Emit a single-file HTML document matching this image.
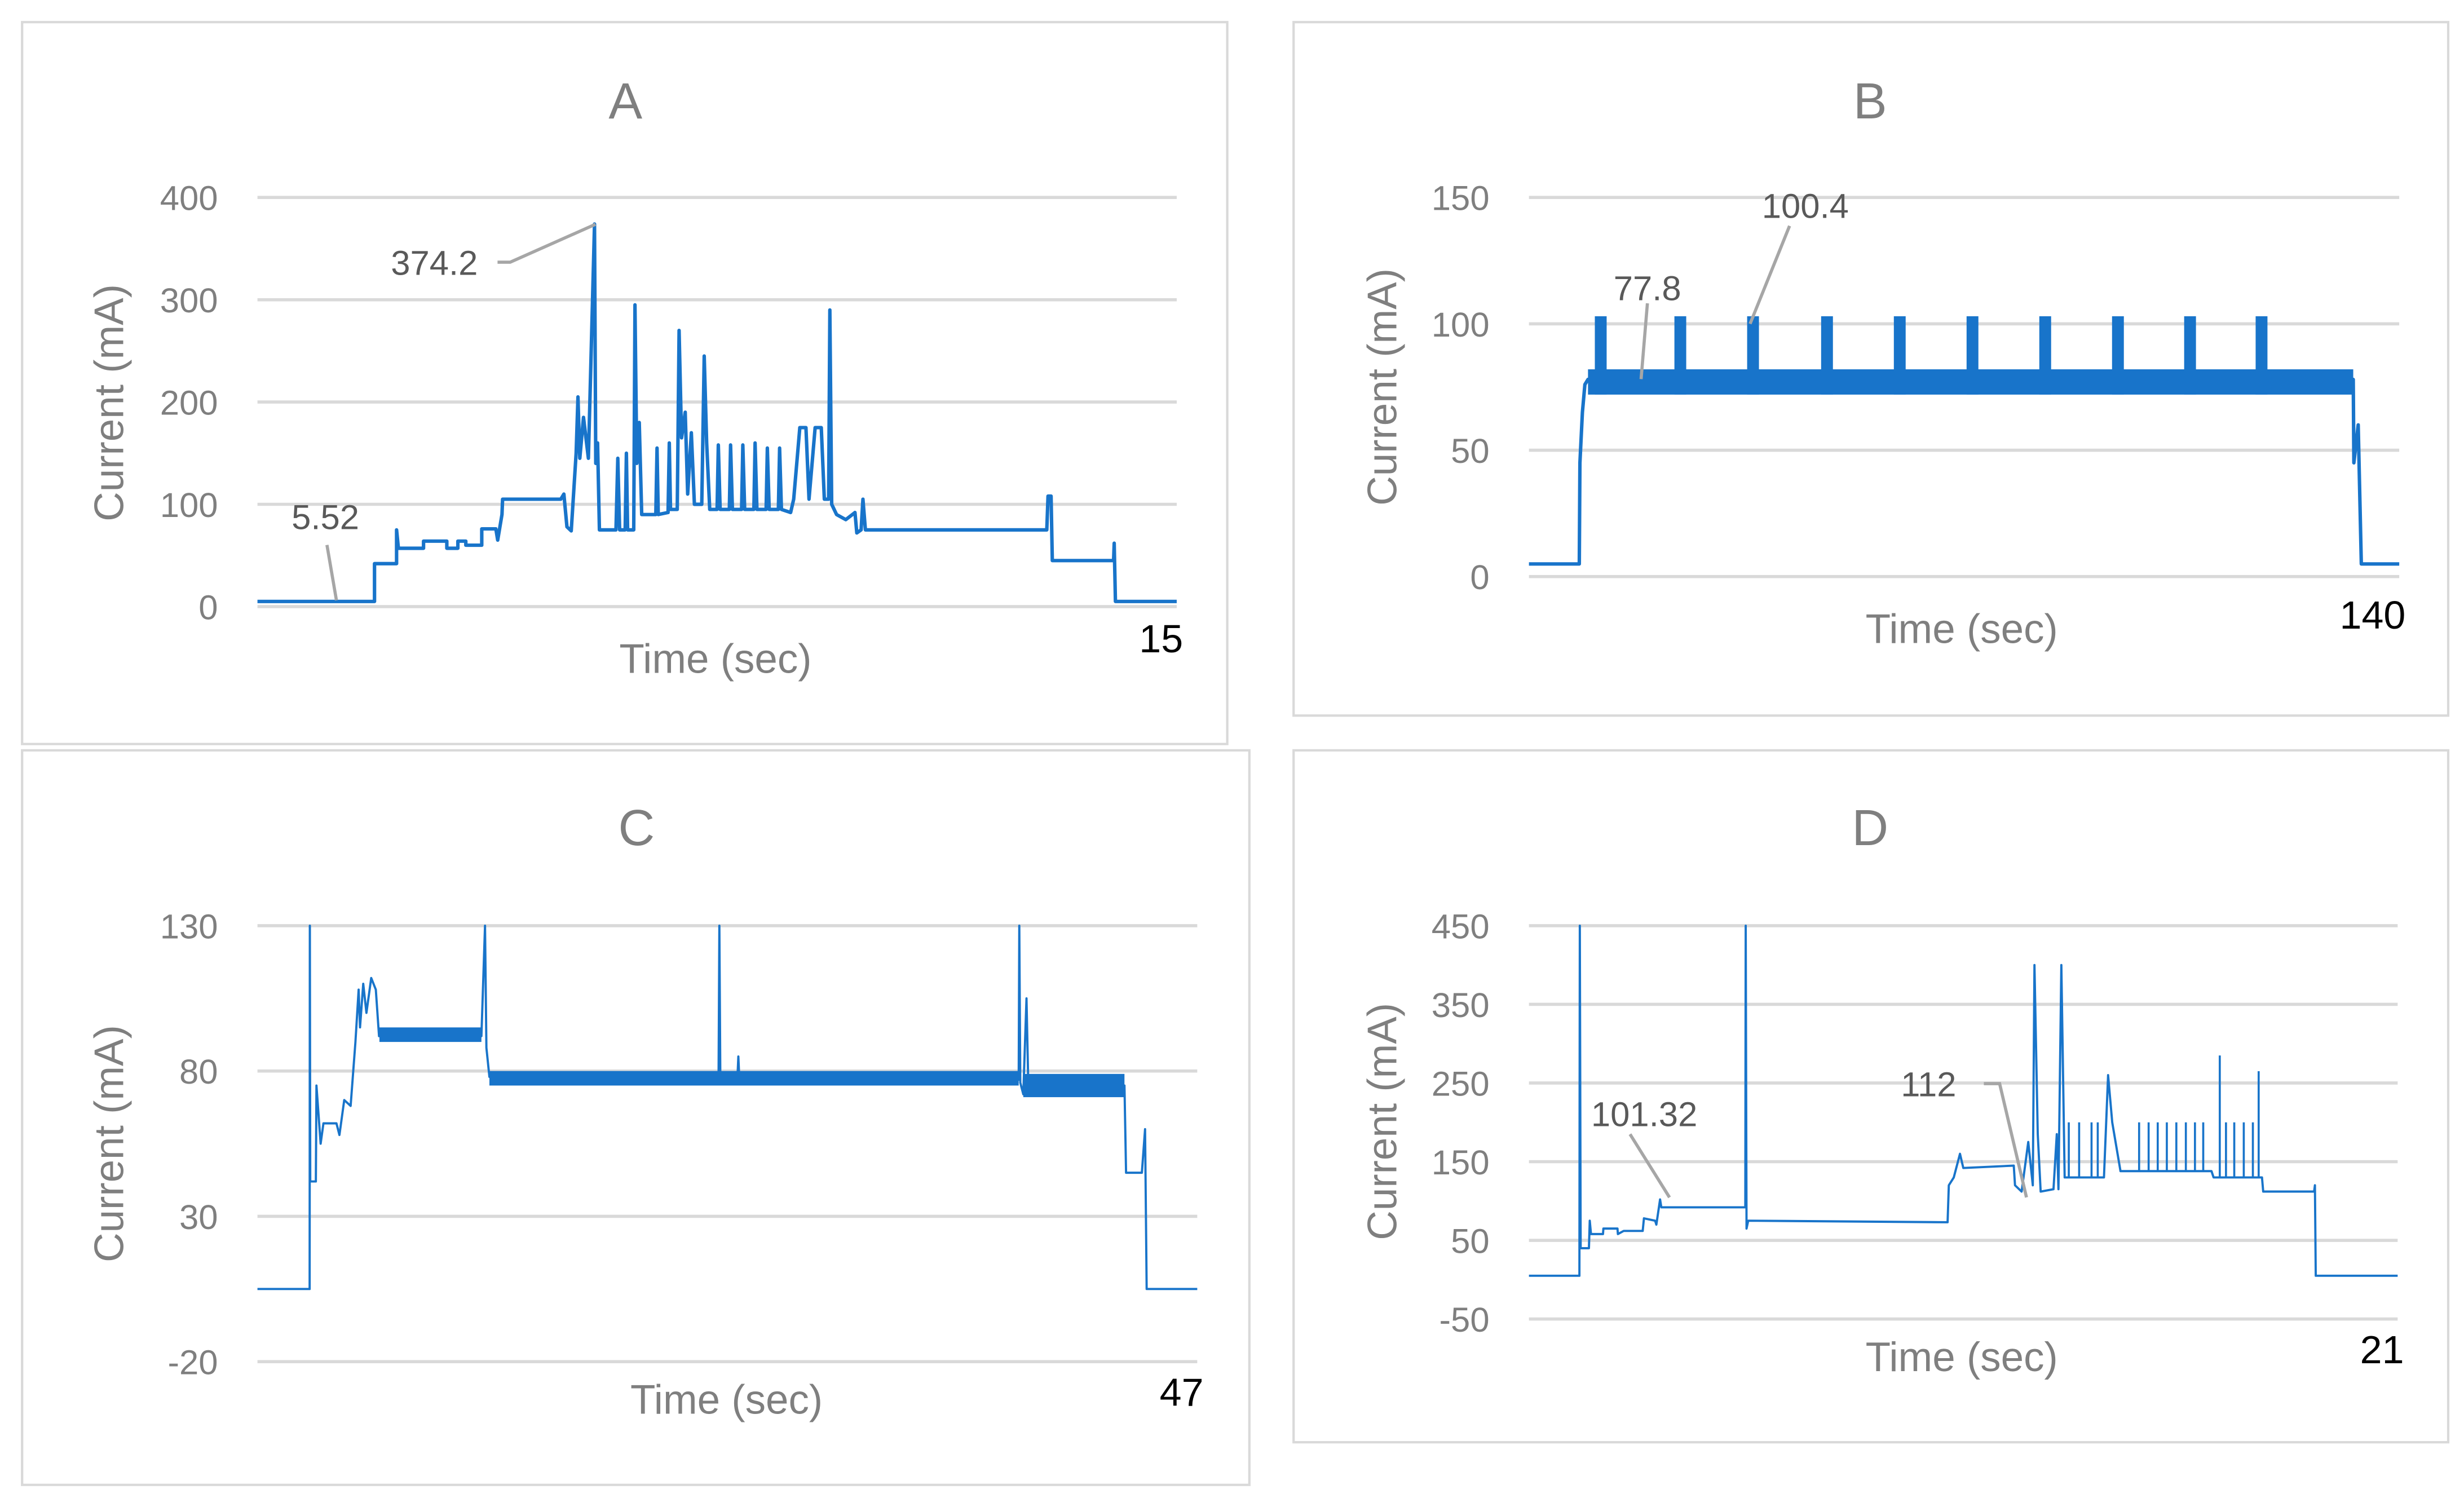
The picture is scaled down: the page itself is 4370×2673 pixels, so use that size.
<!DOCTYPE html>
<html><head><meta charset="utf-8"><style>
html,body{margin:0;padding:0;background:#fff;}
svg{display:block;}
text{font-family:"Liberation Sans",sans-serif;}
</style></head><body>
<svg id="fig" width="4370" height="2673" viewBox="0 0 1560 954" preserveAspectRatio="none" xmlns="http://www.w3.org/2000/svg">
<rect x="0" y="0" width="1560" height="954" fill="#fff"/>
<rect x="14" y="14" width="763" height="457" fill="none" stroke="#d9d9d9" stroke-width="1.5"/>
<rect x="819" y="14" width="731" height="439" fill="none" stroke="#d9d9d9" stroke-width="1.5"/>
<rect x="14" y="475" width="777" height="465" fill="none" stroke="#d9d9d9" stroke-width="1.5"/>
<rect x="819" y="475" width="731" height="438" fill="none" stroke="#d9d9d9" stroke-width="1.5"/>
<g id="layer"></g>
</svg>
<script>
// ---- Panel A data (time s, current mA)
const tA=[0,1.91,1.91,2.27,2.27,2.30,2.71,2.71,3.09,3.09,3.27,3.27,3.40,3.40,3.66,3.66,3.89,3.92,3.99,4.0,4.95,5.0,5.05,5.12,5.20,5.23,5.26,5.32,5.40,5.50,5.52,5.55,5.58,5.85,5.88,5.91,6.0,6.02,6.04,6.14,6.16,6.19,6.23,6.27,6.5,6.52,6.54,6.7,6.72,6.74,6.85,6.88,6.92,6.98,7.02,7.08,7.13,7.25,7.29,7.33,7.38,7.5,7.52,7.55,7.7,7.72,7.75,7.9,7.92,7.95,8.1,8.12,8.15,8.3,8.32,8.35,8.5,8.52,8.55,8.7,8.75,8.85,8.95,9.0,9.1,9.2,9.25,9.32,9.34,9.37,9.45,9.6,9.75,9.78,9.85,9.88,9.92,12.88,12.9,12.95,12.97,13.97,13.98,14.0,15];
const vA=[5,5,42,42,75,57,57,64,64,57,57,64,64,60,60,76,76,65,90,105,105,110,78,74,150,205,145,185,145,374,140,160,75,75,145,75,75,150,75,75,295,140,180,90,90,155,90,92,160,95,95,270,165,190,110,170,100,100,245,160,95,95,158,95,95,158,95,95,158,95,95,160,95,95,155,95,95,155,95,92,105,175,175,105,175,175,105,105,290,100,90,85,92,72,75,105,75,75,108,108,45,45,62,5,5];
const ticksA=[0,100,200,300,400];
// ---- Panel B data
const tB=[0,8.1,8.2,8.6,9.0,9.5,132.6,132.7,133.4,133.9,140];
const vB=[5,5,45,65,76,78,78,45,60,5,5];
const bandB=[9.5,132.6,72,82];
const pulseTimesB=[10.6,23.4,35.1,47.0,58.7,70.4,82.1,93.8,105.4,116.9];
const pulsePeaksB=[103,103,103,103,103,103,103,103,103,103];
const pulseWidthB=[1.9];
const ticksB=[0,50,100,150];
// ---- Panel C data
const tC=[0,2.61,2.62,2.64,2.92,2.95,3.16,3.3,3.95,4.1,4.34,4.66,4.9,5.06,5.13,5.29,5.45,5.69,5.92,6.08,11.2,11.38,11.45,11.6,23.06,23.1,23.15,24.0,24.05,24.1,38.07,38.1,38.15,38.3,38.46,38.55,43.36,43.44,44.23,44.39,44.47,47];
const vC=[5,5,130,42,42,75,55,62,62,58,70,68,90,108,95,110,100,112,108,92,92,130,88,78,77,130,76,77,85,77,77,130,76,72,105,75,75,45,45,60,5,5];
const bandsC=[[11.6,38.07,75,80],[38.3,43.36,71,79],[6.1,11.2,90,95]];
const ticksC=[-20,30,80,130];
// ---- Panel D data
const tD=[0,1.22,1.23,1.25,1.45,1.47,1.5,1.79,1.8,2.14,2.15,2.29,2.75,2.78,3.05,3.08,3.17,3.2,5.23,5.24,5.26,5.3,10.12,10.15,10.27,10.42,10.5,11.72,11.75,11.91,12.07,12.18,12.22,12.30,12.37,12.68,12.76,12.8,12.87,12.95,13.9,14.0,14.1,14.3,14.55,14.6,16.5,16.55,17.72,17.75,18.98,19.0,19.02,19.1,21];
const vD=[5,5,450,40,40,75,58,58,65,65,58,62,62,78,75,70,102,92,92,450,65,75,73,120,130,160,142,145,120,112,175,120,400,185,112,115,185,115,400,130,130,260,200,138,138,138,138,130,130,112,112,120,5,5,5];
const spikeTimesD=[13.05,13.3,13.6,13.75,14.75,14.98,15.2,15.42,15.65,15.88,16.1,16.3,16.7,16.85,17.05,17.28,17.5,17.64];
const spikeValsD=[200,200,200,200,200,200,200,200,200,200,200,200,285,200,200,200,200,265];
const ticksD=[-50,50,150,250,350,450];

const NS='http://www.w3.org/2000/svg';
const layer=document.getElementById('layer');
const BLUE='#1874ca', GRID='#d9d9d9', GRAY='#7f7f7f';
function mk(tag,attrs,parent){const e=document.createElementNS(NS,tag);for(const k in attrs)e.setAttribute(k,attrs[k]);(parent||layer).appendChild(e);return e;}
function scale(d0,d1,r0,r1){return v=>r0+(v-d0)/(d1-d0)*(r1-r0);}

function panel(cfg){
  const x=scale(0,cfg.tmax,cfg.x0,cfg.x1), y=scale(cfg.ymin,cfg.ymax,cfg.y0,cfg.y1);
  const g=mk('g',{});
  
  
  cfg.ticks.forEach(v=>{
    const l=mk('line',{x1:cfg.x0,x2:cfg.x1,y1:y(v),y2:y(v),stroke:GRID,'stroke-width':2},g);
    
    
    const t=mk('text',{x:cfg.x0-25,y:y(v)+8,'text-anchor':'end','font-size':22,fill:GRAY},g);
    
    
    t.textContent=v;
  });
  const tt=mk('text',{x:cfg.titleX,y:cfg.titleY,'text-anchor':'middle','font-size':32,fill:GRAY},g);
  
  
  tt.textContent=cfg.title;
  const yl=mk('text',{x:0,y:0,'text-anchor':'middle','font-size':26,fill:GRAY,transform:`translate(${cfg.ylx},${cfg.yly}) rotate(-90)`},g);
  
  
  yl.textContent='Current (mA)';
  const xl=mk('text',{x:cfg.xlx,y:cfg.xly,'text-anchor':'middle','font-size':26,fill:GRAY},g);
  
  
  xl.textContent='Time (sec)';
  const el=mk('text',{x:cfg.x1+4,y:cfg.endY,'text-anchor':'end','font-size':25,fill:'#000'},g);
  
  
  el.textContent=cfg.tmax;
  (cfg.bands||[]).forEach(b=>{
    const r=mk('rect',{x:x(b[0]),y:y(b[3]),width:x(b[1])-x(b[0]),height:y(b[2])-y(b[3]),fill:BLUE},g);
    
    
  });
  (cfg.pulses||[]).forEach(p=>{
    const r=mk('rect',{x:x(p[0]),y:y(p[1]),width:x(p[0]+p[2])-x(p[0]),height:y(p[3])-y(p[1]),fill:BLUE},g);
    
    
  });
  const pts=cfg.t.map((t,i)=>x(t).toFixed(2)+','+y(cfg.v[i]).toFixed(2)).join(' ');
  const pl=mk('polyline',{points:pts,fill:'none',stroke:BLUE,'stroke-width':cfg.sw,'stroke-linejoin':'round'},g);
  
  
  (cfg.spikes||[]).forEach(s=>{
    const l=mk('line',{x1:x(s[0]),x2:x(s[0]),y1:y(s[1]),y2:y(s[2]),stroke:BLUE,'stroke-width':1.3},g);
    
    
  });
  (cfg.notes||[]).forEach(n=>{
    const l=mk('polyline',{points:n.line,fill:'none',stroke:'#a6a6a6','stroke-width':2},g);
    
    
    const t=mk('text',{x:n.x,y:n.y,'text-anchor':'middle','font-size':22,fill:'#595959'},g);
    
    
    t.textContent=n.text;
  });
}

panel({id:'panel-a',title:'A',t:tA,v:vA,tmax:15,ymin:0,ymax:400,ticks:ticksA,
  x0:163,x1:745,y0:384,y1:125,titleX:396,titleY:75,ylx:78,yly:255,xlx:453,xly:426,endY:413,sw:2.2,
  notes:[{text:'374.2',x:275,y:174,line:'315,166 323,166 377,142'},{text:'5.52',x:206,y:335,line:'207,345 213,380'}]});

panel({id:'panel-b',title:'B',t:tB,v:vB,tmax:140,ymin:0,ymax:150,ticks:ticksB,
  x0:968,x1:1519,y0:365,y1:125,titleX:1184,titleY:75,ylx:884,yly:245,xlx:1242,xly:407,endY:398,sw:2.2,
  bands:[[bandB[0],bandB[1],bandB[2],bandB[3]]],
  pulses:pulseTimesB.map((t,i)=>[t,pulsePeaksB[i],pulseWidthB[0],bandB[2]]),
  notes:[{text:'77.8',x:1043,y:190,line:'1043,192 1039,240'},{text:'100.4',x:1143,y:138,line:'1133,143 1108,205'}]});

panel({id:'panel-c',title:'C',t:tC,v:vC,tmax:47,ymin:-20,ymax:130,ticks:ticksC,
  x0:163,x1:758,y0:862,y1:586,titleX:403,titleY:535,ylx:78,yly:724,xlx:460,xly:895,endY:890,sw:1.4,
  bands:bandsC});

panel({id:'panel-d',title:'D',t:tD,v:vD,tmax:21,ymin:-50,ymax:450,ticks:ticksD,
  x0:968,x1:1518,y0:835,y1:586,titleX:1184,titleY:535,ylx:884,yly:710,xlx:1242,xly:868,endY:863,sw:1.4,
  spikes:spikeTimesD.map((t,i)=>[t,spikeValsD[i],t>=16.55?130:(t>=14.6?138:130)]),
  notes:[{text:'101.32',x:1041,y:713,line:'1032,718 1057,758'},{text:'112',x:1221,y:694,line:'1256,686 1266,686 1283,758'}]});
</script>
</body></html>
